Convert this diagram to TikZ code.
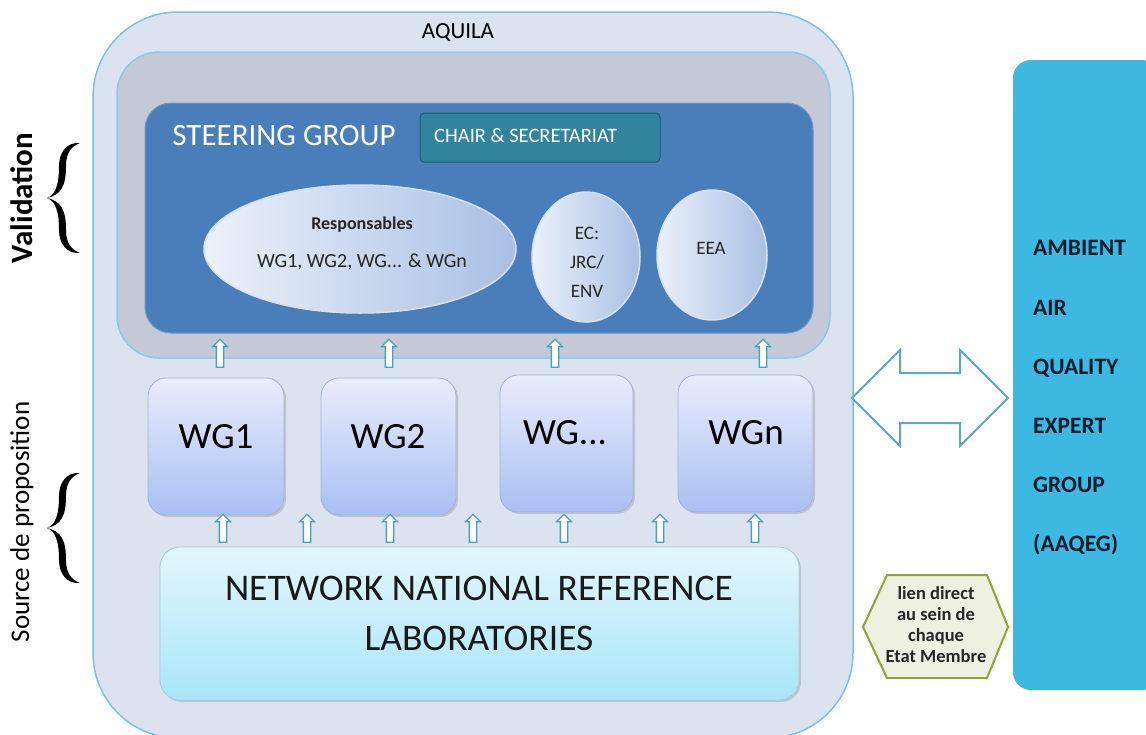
\documentclass[tikz,border=0pt]{standalone}
\usepackage{fontspec}
\setmainfont{Carlito}
\usetikzlibrary{shapes.arrows,shapes.geometric,shadows,calc}

\definecolor{outerfill}{HTML}{DBE3F1}
\definecolor{outerline}{HTML}{7CC0E2}
\definecolor{grayfill}{HTML}{C3C9D7}
\definecolor{grayline}{HTML}{8ACBE8}
\definecolor{steer}{HTML}{4A7EBB}
\definecolor{chair}{HTML}{31849B}
\definecolor{chairline}{HTML}{1E5E6E}
\definecolor{elllight}{HTML}{ECF1F9}
\definecolor{elldark}{HTML}{A8C0E4}
\definecolor{ellline}{HTML}{D5E1F1}
\definecolor{wgtop}{HTML}{E9EDFB}
\definecolor{wgbot}{HTML}{A9BFF2}
\definecolor{wgline}{HTML}{A3B1D6}
\definecolor{labtop}{HTML}{E3F6FC}
\definecolor{labbot}{HTML}{A9E6F8}
\definecolor{labline}{HTML}{A5CCDC}
\definecolor{arrline}{HTML}{4C9FB6}
\definecolor{aaq}{HTML}{3DB8E0}
\definecolor{aaqtext}{HTML}{0F1C2C}
\definecolor{hexfill}{HTML}{EEF0E2}
\definecolor{hexline}{HTML}{8DA53B}

\newcommand\myfs[2]{\fontsize{#1}{#2}\selectfont}

\begin{document}
\begin{tikzpicture}[x=1pt,y=-1pt,
  outerbox/.style={draw=outerline, line width=1.5pt, fill=outerfill, rounded corners=85pt, inner sep=0pt},
  graybox/.style={draw=grayline, line width=1.5pt, fill=grayfill, rounded corners=42pt, inner sep=0pt},
  steerbox/.style={fill=steer, draw=steer!80!white, line width=1pt, rounded corners=26pt, inner sep=0pt},
  chairbox/.style={draw=chairline, line width=1pt, fill=chair, rounded corners=4pt, inner sep=0pt},
  ell/.style={ellipse, draw=ellline, line width=1.5pt, left color=elllight, right color=elldark, inner sep=0pt},
  wgbox/.style={draw=wgline, line width=0.8pt, top color=wgtop, bottom color=wgbot, rounded corners=18pt, inner sep=0pt,
     drop shadow={shadow xshift=2pt, shadow yshift=-2pt, opacity=.3}},
  labbox/.style={draw=labline, line width=0.8pt, top color=labtop, bottom color=labbot, rounded corners=20pt, inner sep=0pt,
     drop shadow={shadow xshift=2pt, shadow yshift=-2pt, opacity=.3}},
  uparr/.style={single arrow, draw=arrline, line width=1.3pt, fill=white, rotate=90, minimum height=28pt,
     inner xsep=0pt, inner ysep=3pt, single arrow head extend=4pt},
  dblarr/.style={double arrow, draw=arrline!90!white, line width=2pt, fill=white, minimum height=156pt,
     inner xsep=0pt, inner ysep=24pt, double arrow head extend=23pt},
  aaqbox/.style={fill=aaq, rounded corners=18pt, inner sep=0pt},
  wgtxt/.style={font=\myfs{37}{40}, text=black},
]
\useasboundingbox (0,0) rectangle (1146,734);
\clip (0,0) rectangle (1146,734);

% outer AQUILA frame
\node[outerbox, minimum width=760pt, minimum height=726pt] (aquila) at (473,375) {};
\node[font=\myfs{23}{26}] (aquilat) at (458,33) {AQUILA};

% gray inner frame and steering group
\node[graybox, minimum width=713pt, minimum height=306pt] (gray) at (473.5,205) {};
\node[steerbox, minimum width=668pt, minimum height=230pt] (steer) at (479,218) {};
\node[font=\myfs{31}{34}, text=white] (steert) at (284,136) {STEERING GROUP};
\node[chairbox, minimum width=240pt, minimum height=49pt] (chair) at (540,137.5) {};
\node[font=\myfs{20.5}{22}, text=white, anchor=west, inner xsep=0pt] (chairt) at (434,136) {CHAIR \& SECRETARIAT};

% ellipses
\node[ell, minimum width=312pt, minimum height=128pt] (resp) at (360,249) {};
\node[font=\myfs{18}{20}\bfseries, text=black!85] (resp1) at (362,225) {Responsables};
\node[font=\myfs{20}{22}, text=black!85] (resp2) at (362,262) {WG1, WG2, WG... \& WGn};
\node[ell, minimum width=108pt, minimum height=130pt] (ec) at (586,257) {};
\node[font=\myfs{19}{29}, text=black!85, align=center] (ect) at (587,262) {EC:\\JRC/\\ENV};
\node[ell, minimum width=110pt, minimum height=130pt] (eea) at (712,255) {};
\node[font=\myfs{19}{22}, text=black!85] (eeat) at (711,248) {EEA};

% working groups
\node[wgbox, minimum width=136pt, minimum height=137pt] (wg1) at (216,446.5) {};
\node[wgbox, minimum width=135pt, minimum height=137pt] (wg2) at (388.5,446.5) {};
\node[wgbox, minimum width=133pt, minimum height=137pt] (wgd) at (566.5,443.5) {};
\node[wgbox, minimum width=135pt, minimum height=137pt] (wgn) at (745.5,443.5) {};
\node[wgtxt] (wg1t) at (216,437) {WG1};
\node[wgtxt] (wg2t) at (388,437) {WG2};
\node[wgtxt] (wgdt) at (565,433) {WG...};
\node[wgtxt] (wgnt) at (746,433) {WGn};

% arrows WG -> steering group
\node[uparr] (a1) at (220,355) {};
\node[uparr] (a2) at (389,355) {};
\node[uparr] (a3) at (555,355) {};
\node[uparr] (a4) at (763,355) {};

% network of laboratories
\node[labbox, minimum width=639pt, minimum height=153pt] (nnrl) at (479.5,623.5) {};
\node[font=\myfs{37.5}{50}, text=black!90, align=center] (nnrlt) at (479,613) {NETWORK NATIONAL REFERENCE\\LABORATORIES};

% arrows laboratories -> WG
\foreach \xx [count=\i] in {223,307,390,473,564,660,755}
  \node[uparr] (b\i) at (\xx,530) {};

% AAQEG
\node[aaqbox, minimum width=147pt, minimum height=630pt] (aaqeg) at (1086.5,375) {};
\node[font=\myfs{23.5}{59.2}\bfseries, text=aaqtext, align=left, anchor=west, inner xsep=0pt] (aaqegt) at (1033,398)
  {AMBIENT\\AIR\\QUALITY\\EXPERT\\GROUP\\(AAQEG)};

% double arrow between AQUILA and AAQEG
\node[dblarr] (link) at (930,398) {};

% hexagon
\coordinate (h1) at (863,627);
\coordinate (h2) at (887,575);
\coordinate (h3) at (987,575);
\coordinate (h4) at (1008,627);
\coordinate (h5) at (987,678);
\coordinate (h6) at (887,678);
\draw[hexline, line width=2pt, fill=hexfill, line join=round] (h1) -- (h2) -- (h3) -- (h4) -- (h5) -- (h6) -- cycle;
\node[font=\myfs{18.5}{21}\bfseries, text=black!85, align=center] (hex) at (936,625)
  {lien direct\\au sein de\\chaque\\Etat Membre};

% left labels and braces
\node[font=\myfs{31}{34}\bfseries, rotate=90] (valid) at (22,198) {Validation};
\node[font=\myfs{27}{32}, rotate=90] (source) at (22,522) {Source de proposition};
\foreach \yy in {198,528}{
\begin{scope}[shift={(47,\yy)}]
\fill[black] (33,-55) .. controls (20,-56) and (12,-46) .. (12,-32)
  .. controls (12,-12) and (8,-3) .. (0,0)
  .. controls (8,3) and (12,12) .. (12,32)
  .. controls (12,46) and (20,56) .. (33,55)
  .. controls (25,52) and (19,46) .. (19,32)
  .. controls (19,12) and (14,3) .. (0,0)
  .. controls (14,-3) and (19,-12) .. (19,-32)
  .. controls (19,-46) and (25,-52) .. (33,-55) -- cycle;
\end{scope}
}
\end{tikzpicture}
\end{document}
